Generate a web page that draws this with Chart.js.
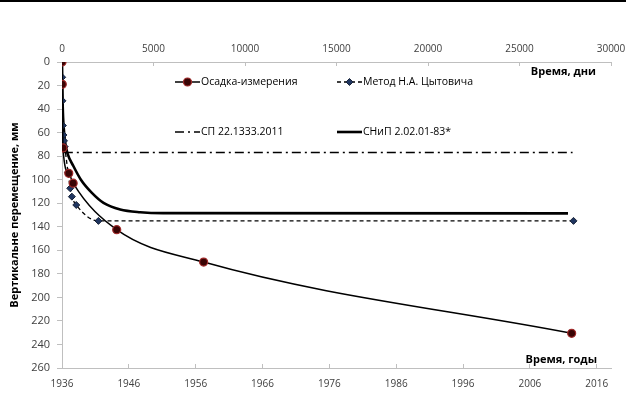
<!DOCTYPE html>
<html>
<head>
<meta charset="utf-8">
<script src="https://cdn.jsdelivr.net/npm/chart.js@4.4.1/dist/chart.umd.min.js"></script>
<style>
html, body { margin: 0; padding: 0; background: #fff; }
#wrap { position: relative; width: 626px; height: 395px; }
#wrap:before { content: ''; position: absolute; left: 0; top: 0; width: 626px; height: 2px; background: #000; }
canvas { display: block; }
</style>
</head>
<body>
<div id="wrap"><canvas id="c" width="626" height="395"></canvas></div>
<script>
// Осадка, мм, от времени, сутки
const measDays = [0, 15, 50, 370, 610, 2990, 7740, 27850];
const measMm   = [0, 19, 73, 94.6, 103, 142.5, 170, 230.5];

const tsytDays = [0, 10, 25, 50, 80, 110, 150, 330, 450, 540, 780, 1990, 27950];
const tsytMm   = [0, 13, 33, 54, 62, 67, 72, 93.7, 107.3, 114.4, 121.5, 135, 135];

const snipDays = [0, 40, 100, 180, 300, 628, 1033, 1634, 2268, 3180, 4273, 5500, 27650];
const snipMm   = [0, 38, 57, 69, 77.6, 88.6, 100, 111.2, 119.7, 125.3, 127.6, 128.4, 128.6];

const spDays = [100, 27900];
const spMm   = [77, 77];

const seriesNames = ['Осадка-измерения', 'Метод Н.А. Цытовича', 'СП 22.1333.2011', 'СНиП 2.02.01-83*'];

// подписи осей
const dayTicks  = [0, 5000, 10000, 15000, 20000, 25000, 30000];
const yearTicks = [1936, 1946, 1956, 1966, 1976, 1986, 1996, 2006, 2016];
const mmTicks   = [0, 20, 40, 60, 80, 100, 120, 140, 160, 180, 200, 220, 240, 260];

const FONT = '"Open Sans", "DejaVu Sans", sans-serif';
const AXIS_GRAY = '#bfbfbf';
const TICK_COLOR = '#404040';

function toPoints(xs, ys) {
    return xs.map((x, i) => ({ x: x, y: ys[i] }));
}

// фиксированные отступы области построения
function fixX(height) {
    return axis => {
        axis.height = height;
        axis.paddingLeft = 0;
        axis.paddingRight = 15;
    };
}

// легенда внутри области графика
const legendPos = [
    { x: 175, y: 82 },
    { x: 337, y: 82 },
    { x: 175, y: 132 },
    { x: 337, y: 132 }
];

function drawMarker(ctx, ds, x, y) {
    const r = ds.pointRadius;
    if (!r) return;
    ctx.save();
    ctx.fillStyle = ds.pointBackgroundColor;
    ctx.strokeStyle = ds.pointBorderColor;
    ctx.lineWidth = ds.pointBorderWidth;
    ctx.setLineDash([]);
    ctx.beginPath();
    if (ds.pointStyle === 'rectRot') {
        ctx.moveTo(x, y - r);
        ctx.lineTo(x + r, y);
        ctx.lineTo(x, y + r);
        ctx.lineTo(x - r, y);
        ctx.closePath();
    } else {
        ctx.arc(x, y, r, 0, Math.PI * 2);
    }
    ctx.fill();
    ctx.stroke();
    ctx.restore();
}

const insideLabels = {
    id: 'insideLabels',
    afterDatasetsDraw(chart) {
        const ctx = chart.ctx;
        const area = chart.chartArea;
        ctx.save();

        // подписи осей времени
        ctx.fillStyle = '#000';
        ctx.font = 'bold 11px ' + FONT;
        ctx.textAlign = 'right';
        ctx.textBaseline = 'middle';
        ctx.fillText('Время, дни', area.right - 15, area.top + 10);
        ctx.fillText('Время, годы', area.right - 14, area.bottom - 8);

        // легенда
        chart.data.datasets.forEach((ds, i) => {
            const p = legendPos[i];
            ctx.save();
            ctx.strokeStyle = ds.borderColor;
            ctx.lineWidth = ds.borderWidth;
            ctx.setLineDash(ds.borderDash || []);
            ctx.beginPath();
            ctx.moveTo(p.x, p.y);
            ctx.lineTo(p.x + 25, p.y);
            ctx.stroke();
            ctx.restore();
            drawMarker(ctx, ds, p.x + 12.5, p.y);
            ctx.fillStyle = '#000';
            ctx.font = '10.5px ' + FONT;
            ctx.textAlign = 'left';
            ctx.textBaseline = 'middle';
            ctx.fillText(ds.label, p.x + 26, p.y);
        });
        ctx.restore();
    }
};

const chart = new Chart(document.getElementById('c'), {
    type: 'line',
    data: {
        datasets: [
            {
                label: seriesNames[0],
                data: toPoints(measDays, measMm),
                borderColor: '#000000',
                borderWidth: 1.5,
                cubicInterpolationMode: 'monotone',
                pointStyle: 'circle',
                pointRadius: 4,
                pointBackgroundColor: '#3a0505',
                pointBorderColor: '#a02a2a',
                pointBorderWidth: 1.2,
                xAxisID: 'xDays'
            },
            {
                label: seriesNames[1],
                data: toPoints(tsytDays, tsytMm),
                borderColor: '#000000',
                borderWidth: 1.3,
                borderDash: [4, 3],
                cubicInterpolationMode: 'monotone',
                pointStyle: 'rectRot',
                pointRadius: 3.5,
                pointBackgroundColor: '#1f3560',
                pointBorderColor: '#1a2438',
                pointBorderWidth: 1,
                xAxisID: 'xDays'
            },
            {
                label: seriesNames[2],
                data: toPoints(spDays, spMm),
                borderColor: '#000000',
                borderWidth: 1.5,
                borderDash: [9, 4, 2, 4],
                pointRadius: 0,
                xAxisID: 'xDays'
            },
            {
                label: seriesNames[3],
                data: toPoints(snipDays, snipMm),
                borderColor: '#000000',
                borderWidth: 2.6,
                cubicInterpolationMode: 'monotone',
                pointRadius: 0,
                xAxisID: 'xDays'
            }
        ]
    },
    options: {
        responsive: false,
        animation: false,
        layout: { padding: 0 },
        plugins: {
            legend: { display: false },
            tooltip: { enabled: false }
        },
        scales: {
            xDays: {
                type: 'linear',
                position: 'top',
                min: 0,
                max: 30000,
                afterBuildTicks: axis => { axis.ticks = dayTicks.map(v => ({ value: v })); },
                afterFit: fixX(62),
                grid: { drawOnChartArea: false, color: AXIS_GRAY, tickLength: -4 },
                border: { color: AXIS_GRAY },
                ticks: {
                    color: TICK_COLOR,
                    font: { family: FONT, size: 10 },
                    padding: 11,
                    maxRotation: 0,
                    callback: v => String(v)
                }
            },
            xYears: {
                type: 'linear',
                position: 'bottom',
                min: 1936,
                max: 1936 + 30000 / 365.25,
                afterBuildTicks: axis => { axis.ticks = yearTicks.map(v => ({ value: v })); },
                afterFit: fixX(27),
                grid: { drawOnChartArea: false, color: AXIS_GRAY, tickLength: -4 },
                border: { color: AXIS_GRAY },
                ticks: {
                    color: TICK_COLOR,
                    font: { family: FONT, size: 10 },
                    padding: 14,
                    maxRotation: 0,
                    callback: v => String(v)
                }
            },
            y: {
                type: 'linear',
                reverse: true,
                min: 0,
                max: 260,
                afterBuildTicks: axis => { axis.ticks = mmTicks.map(v => ({ value: v })); },
                afterFit: axis => { axis.width = 62; },
                grid: { drawOnChartArea: false, color: AXIS_GRAY, tickLength: 5 },
                border: { color: AXIS_GRAY },
                ticks: {
                    color: TICK_COLOR,
                    font: { family: FONT, size: 11 },
                    padding: 7,
                    callback: v => String(v)
                },
                title: {
                    display: true,
                    text: 'Вертикальне перемещение, мм',
                    color: '#000',
                    font: { family: FONT, size: 11, weight: 'bold' },
                    padding: { top: 8, bottom: 0 }
                }
            }
        }
    },
    plugins: [insideLabels]
});
</script>
</body>
</html>
